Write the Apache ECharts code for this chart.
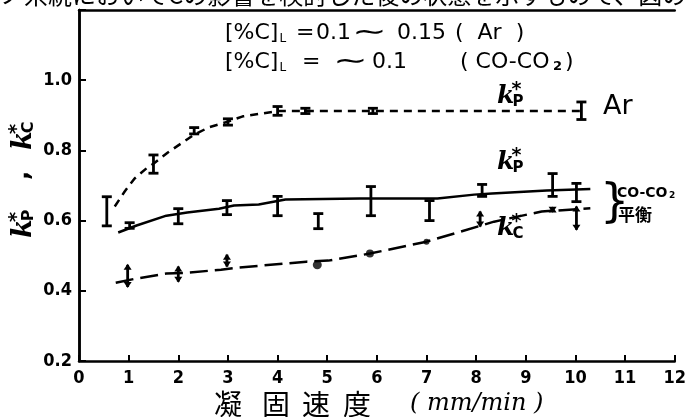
<!DOCTYPE html>
<html><head><meta charset="utf-8">
<script src="https://cdn.jsdelivr.net/npm/echarts@6/dist/echarts.min.js"></script>
<style>html,body{margin:0;padding:0;background:#fff}#c{width:689px;height:417px}</style>
</head><body><div id="c"></div>
<script>
// ---- data ----
const xTickLabels = ['0','1','2','3','4','5','6','7','8','9','10','11','12'];
const yTickLabels = ['0.2','0.4','0.6','0.8','1.0'];

// Ar atmosphere, k_P* measurements (x, low, high)
const arX    = [0.56, 1.50, 2.32, 3.00, 4.00, 4.56, 5.92, 10.12];
const arLow  = [0.585, 0.735, 0.847, 0.872, 0.900, 0.905, 0.905, 0.888];
const arHigh = [0.668, 0.787, 0.865, 0.890, 0.925, 0.920, 0.920, 0.938];
// Ar k_P* drawn curve
const arCurveX = [0.72, 0.92, 1.12, 1.36, 1.50, 1.79, 2.06, 2.32, 2.62, 3.00, 3.30, 4.00, 6.00, 10.12];
const arCurveY = [0.640, 0.683, 0.720, 0.749, 0.762, 0.794, 0.820, 0.845, 0.866, 0.882, 0.897, 0.912, 0.912, 0.912];

// CO-CO2 equilibrium, k_P* measurements
const coPX    = [1.02, 2.00, 2.98, 4.00, 4.82, 5.88, 7.06, 8.12, 9.54, 10.02];
const coPLow  = [0.578, 0.591, 0.617, 0.614, 0.577, 0.614, 0.600, 0.669, 0.669, 0.654];
const coPHigh = [0.594, 0.634, 0.657, 0.669, 0.620, 0.697, 0.657, 0.703, 0.734, 0.706];
// CO-CO2 k_P* drawn curve
const coPCurveX = [0.79, 1.16, 1.76, 2.18, 2.82, 3.12, 3.62, 4.16, 5.66, 6.76, 7.22, 7.96, 8.32, 9.42, 10.30];
const coPCurveY = [0.566, 0.586, 0.614, 0.623, 0.634, 0.643, 0.646, 0.660, 0.663, 0.663, 0.663, 0.674, 0.677, 0.686, 0.690];

// CO-CO2 equilibrium, k_C* measurements (range bars)
const coCX    = [0.98, 2.00, 2.98, 8.08, 9.54, 10.02];
const coCLow  = [0.411, 0.426, 0.469, 0.583, 0.625, 0.574];
const coCHigh = [0.474, 0.469, 0.503, 0.626, 0.637, 0.640];
// CO-CO2 k_C* single points
const coCDotX = [4.80, 5.86, 7.00];
const coCDotY = [0.474, 0.506, 0.540];
// CO-CO2 k_C* drawn curve
const coCCurveX = [0.74, 1.12, 1.76, 2.12, 2.86, 3.22, 4.58, 5.02, 5.86, 7.00, 8.08, 8.36, 9.32, 10.30];
const coCCurveY = [0.423, 0.434, 0.449, 0.451, 0.460, 0.466, 0.483, 0.486, 0.506, 0.540, 0.585, 0.597, 0.626, 0.635];

// ---- chart ----
const zip2 = (a, b) => a.map((v, i) => [v, b[i]]);
const zip3 = (a, b, c) => a.map((v, i) => [v, b[i], c[i]]);

function errItem(kind) {
  return function (params, api) {
    const x = api.value(0), lo = api.value(1), hi = api.value(2);
    const a = api.coord([x, hi]), b = api.coord([x, lo]);
    const w = 5;
    const st = { stroke: '#000', lineWidth: 2.8 };
    const ch = [{ type: 'line', shape: { x1: a[0], y1: a[1], x2: b[0], y2: b[1] }, style: st }];
    if (kind === 'cap') {
      ch.push({ type: 'line', shape: { x1: a[0] - w, y1: a[1], x2: a[0] + w, y2: a[1] }, style: st });
      ch.push({ type: 'line', shape: { x1: b[0] - w, y1: b[1], x2: b[0] + w, y2: b[1] }, style: st });
    } else {
      ch.push({ type: 'polygon', shape: { points: [[a[0] - 4, a[1] + 5], [a[0] + 4, a[1] + 5], [a[0], a[1] - 1]] }, style: { fill: '#000' } });
      ch.push({ type: 'polygon', shape: { points: [[b[0] - 4, b[1] - 5], [b[0] + 4, b[1] - 5], [b[0], b[1] + 1]] }, style: { fill: '#000' } });
    }
    return { type: 'group', children: ch };
  };
}

const TXT = '"DejaVu Sans", sans-serif';
function kLabel(x, y, sub, size, extra) {
  return Object.assign({
    type: 'group', x: x, y: y, children: [
      { type: 'text', x: 0, y: 0, style: { text: 'k', font: 'italic bold ' + size + 'px "DejaVu Serif", serif', fill: '#000' } },
      { type: 'text', x: size * 0.58, y: -size * 0.12, style: { text: '*', font: 'bold ' + Math.round(size * 0.75) + 'px ' + TXT, fill: '#000' } },
      { type: 'text', x: size * 0.62, y: size * 0.42, style: { text: sub, font: 'bold ' + Math.round(size * 0.6) + 'px ' + TXT, fill: '#000' } }
    ]
  }, extra || {});
}
function txt(x, y, text, font, extra) {
  return Object.assign({ type: 'text', x: x, y: y, style: { text: text, font: font, fill: '#000', textVerticalAlign: 'middle' } }, extra || {});
}
function cLabel(x, y) {
  return { type: 'text', x: x, y: y, style: { text: '[%C]{s|L}', rich: { s: { fontSize: 12, verticalAlign: 'bottom', padding: [12, 0, 0, 1], fontFamily: TXT } }, font: '22px ' + TXT, fill: '#000', textVerticalAlign: 'middle' } };
}

const chart = echarts.init(document.getElementById('c'));
const axisLine = { show: true, lineStyle: { color: '#000', width: 2.5 } };
const tickFont = { color: '#000', fontSize: 18, fontWeight: 'bold', fontFamily: '"Liberation Sans Narrow", "DejaVu Sans Condensed", sans-serif' };

const L1 = 33, L2 = 62;
chart.setOption({
  animation: false,
  backgroundColor: '#fff',
  grid: { left: 79, right: 8, top: 10, bottom: 56 },
  xAxis: [
    { type: 'value', min: 0, max: 12, interval: 1, axisLine: axisLine,
      axisTick: { show: true, inside: true, length: 6, lineStyle: { color: '#000', width: 2 } },
      splitLine: { show: false },
      axisLabel: Object.assign({ margin: 8, formatter: v => xTickLabels[Math.round(v)] }, tickFont) },
    { type: 'value', position: 'top', min: 0, max: 12, axisLine: axisLine, axisTick: { show: false }, axisLabel: { show: false }, splitLine: { show: false } }
  ],
  yAxis: [
    { type: 'value', min: 0.2, max: 1.2, interval: 0.2, axisLine: axisLine,
      axisTick: { show: true, inside: true, length: 7, lineStyle: { color: '#000', width: 2 } },
      splitLine: { show: false },
      axisLabel: Object.assign({ margin: 7, formatter: v => { const i = Math.round((v - 0.2) / 0.2); return yTickLabels[i] || ''; } }, tickFont) },
    { type: 'value', position: 'right', min: 0.2, max: 1.2, axisLine: axisLine, axisTick: { show: false }, axisLabel: { show: false }, splitLine: { show: false } }
  ],
  series: [
    { type: 'line', data: zip2(arCurveX, arCurveY), symbol: 'none', lineStyle: { color: '#000', width: 2.5, type: [8, 6] } },
    { type: 'line', data: zip2(coPCurveX, coPCurveY), symbol: 'none', lineStyle: { color: '#000', width: 2.5 } },
    { type: 'line', data: zip2(coCCurveX, coCCurveY), symbol: 'none', lineStyle: { color: '#000', width: 2.5, type: [18, 7] } },
    { type: 'custom', renderItem: errItem('cap'), data: zip3(arX, arLow, arHigh), encode: { x: 0, y: [1, 2] }, z: 5 },
    { type: 'custom', renderItem: errItem('cap'), data: zip3(coPX, coPLow, coPHigh), encode: { x: 0, y: [1, 2] }, z: 5 },
    { type: 'custom', renderItem: errItem('arrow'), data: zip3(coCX, coCLow, coCHigh), encode: { x: 0, y: [1, 2] }, z: 5 },
    { type: 'scatter', data: zip2(coCDotX, coCDotY), symbol: 'circle', symbolSize: (v, p) => [9, 8, 6][p.dataIndex], itemStyle: { color: '#000' }, z: 5 }
  ],
  graphic: [
    // clipped line of running text from the page above
    txt(0, -5, 'ノ系統においてCの影響を検討した後の状態を示すもので、図の一派', '24px "Noto Sans CJK JP"'),
    // conditions
    cLabel(225, L1),
    txt(296, L1, '=', '22px ' + TXT),
    txt(316, L1, '0.1', '22px ' + TXT),
    txt(352, L1, '∼', '26px ' + TXT, { scaleX: 1.6 }),
    txt(397, L1, '0.15', '22px ' + TXT),
    txt(455, L1, '(  Ar  )', '22px ' + TXT),
    cLabel(225, L2),
    txt(302, L2, '=', '22px ' + TXT),
    txt(333, L2, '∼', '26px ' + TXT, { scaleX: 1.6 }),
    txt(372, L2, '0.1', '22px ' + TXT),
    txt(460, L2, '( CO-CO', '22px ' + TXT),
    txt(553, L2 + 5, '2', 'bold 13px ' + TXT),
    txt(565, L2, ')', '22px ' + TXT),
    // curve labels
    kLabel(497, 84, 'P', 25),
    kLabel(497, 150, 'P', 25),
    kLabel(497, 216, 'C', 25),
    txt(603, 107, 'Ar', '27px ' + TXT),
    txt(600, 204, '}', '46px "DejaVu Sans"'),
    txt(617, 193, 'CO-CO', 'bold 14px "Liberation Sans Narrow", ' + TXT),
    txt(669, 196, '2', 'bold 9px ' + TXT),
    txt(618, 215, '平衡', 'bold 17px "Noto Sans CJK JP"'),
    // y axis name (rotated)
    { type: 'group', x: 10, y: 238, rotation: Math.PI / 2, children: [
      kLabel(0, 0, 'P', 27),
      { type: 'text', x: 58, y: 0, style: { text: ',', font: 'bold 24px ' + TXT, fill: '#000' } },
      kLabel(88, 0, 'C', 27)
    ] },
    // x axis name
    txt(214, 404, '凝', '28px "Noto Sans CJK JP"'),
    txt(262, 404, '固', '28px "Noto Sans CJK JP"'),
    txt(302, 404, '速', '28px "Noto Sans CJK JP"'),
    txt(343, 404, '度', '28px "Noto Sans CJK JP"'),
    txt(410, 404, '( mm/min )', 'italic 24px "DejaVu Serif", serif')
  ]
});
</script></body></html>
